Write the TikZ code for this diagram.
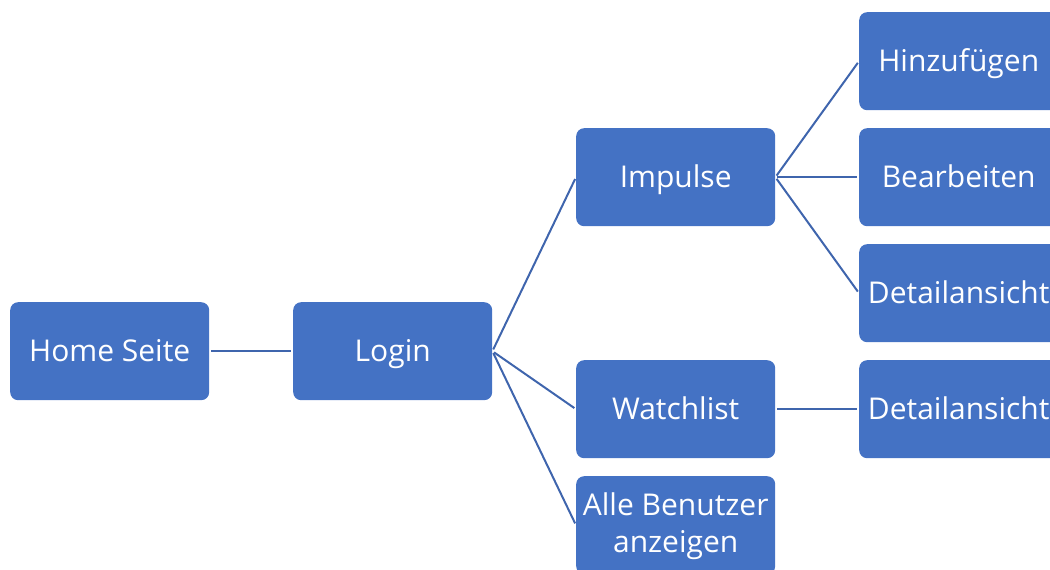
\documentclass[tikz,border=0pt]{standalone}
\usepackage{fontspec}
\setmainfont{Open Sans}
\begin{document}
\begin{tikzpicture}[x=1pt,y=-1pt,
  box/.style={draw=none,fill=boxblue,rounded corners=8pt,minimum width=199pt,minimum height=98pt,
    text=white,font=\fontsize{30}{37}\selectfont,align=center,inner sep=0pt,anchor=north west,
    text height=25pt,text depth=5pt},
  conn/.style={draw=lineblue,line width=2pt,shorten <=2pt,shorten >=2pt}]
\definecolor{boxblue}{HTML}{4472C4}
\definecolor{lineblue}{HTML}{3F65AD}
\useasboundingbox (0,0) rectangle (1050,570);
\clip (0,0) rectangle (1050,570);
\node[box] (home) at (10,302) {Home Seite};
\node[box] (login) at (293,302) {Login};
\node[box] (imp) at (576,128) {Impulse};
\node[box] (watch) at (576,360) {Watchlist};
\node[box,text height=59pt,text depth=5pt] (alle) at (576,476) {Alle Benutzer\\anzeigen};
\node[box] (hinz) at (859,12) {Hinzufügen};
\node[box] (bearb) at (859,128) {Bearbeiten};
\node[box] (det1) at (859,244) {Detailansicht};
\node[box] (det2) at (859,360) {Detailansicht};
\draw[conn] (home.east) -- (login.west);
\draw[conn] (login.east) -- (imp.west);
\draw[conn] (login.east) -- (watch.west);
\draw[conn] (login.east) -- (alle.west);
\draw[conn] (imp.east) -- (hinz.west);
\draw[conn] (imp.east) -- (bearb.west);
\draw[conn] (imp.east) -- (det1.west);
\draw[conn] (watch.east) -- (det2.west);
\end{tikzpicture}
\end{document}
